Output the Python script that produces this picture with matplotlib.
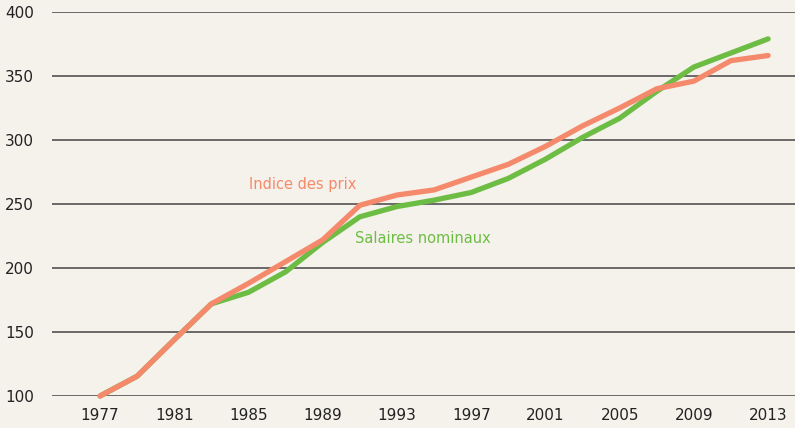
import numpy as np
import matplotlib.pyplot as plt

# données (indice base 100 en 1977)
annees = list(range(1977, 2014, 2))
prix = [100, 115.5, 144, 172, 188, 205, 222, 249, 257, 261, 271, 281, 295, 311, 325, 340, 346, 362, 366]
salaires = [100, 115.5, 144, 172, 181, 197, 220, 240, 248, 253, 259, 270, 285, 302, 317, 338, 357, 368, 379]
xticks = list(range(1977, 2014, 4))
yticks = [100, 150, 200, 250, 300, 350, 400]

fond = '#f5f1eb'
orange = '#f4896b'
vert = '#6dbd45'

fig = plt.figure(figsize=(7.95, 4.28), dpi=100, facecolor=fond)
ax = fig.add_axes([52/795, 32/428, 1 - 52/795, 384/428])
ax.set_facecolor(fond)

ax.plot(annees, salaires, color=vert, lw=3.8, solid_capstyle='round', clip_on=False, zorder=3)
ax.plot(annees, prix, color=orange, lw=3.8, solid_capstyle='round', clip_on=False, zorder=4)

ax.set_xlim(1974.41, 2014.45)
ax.set_ylim(100, 400)
ax.set_xticks(xticks)
ax.set_yticks(yticks)
ax.tick_params(length=0, labelsize=11, colors='#222222')
ax.tick_params(axis='y', pad=13)
ax.tick_params(axis='x', pad=9)
ax.grid(axis='y', color='#444444', lw=1.1)
ax.set_axisbelow(True)
for s in ax.spines.values():
    s.set_visible(False)

ax.text(1987.9, 265, 'Indice des prix', color=orange, fontsize=10.5, ha='center', va='center')
ax.text(1994.4, 223, 'Salaires nominaux', color=vert, fontsize=10.5, ha='center', va='center')

plt.savefig('out.png', dpi=100, facecolor=fond)
